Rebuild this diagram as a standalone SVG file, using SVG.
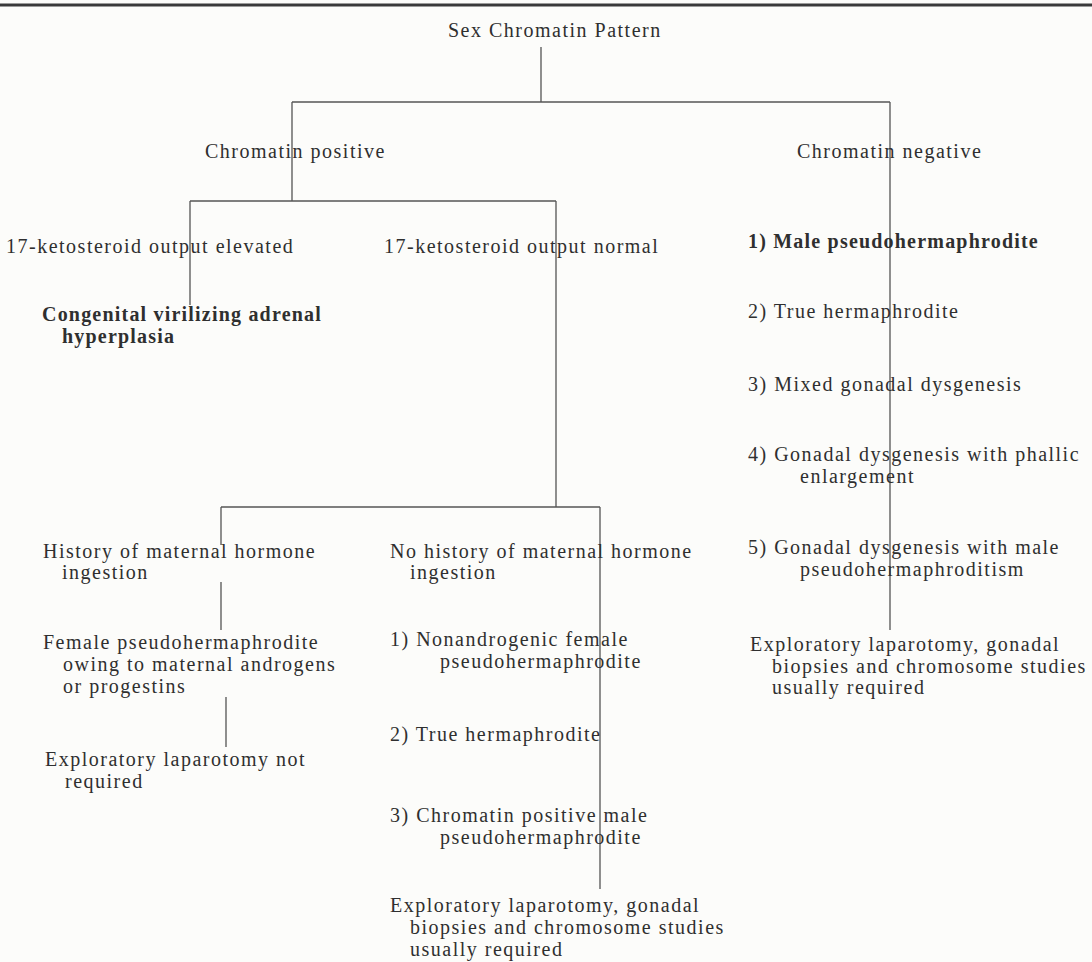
<svg xmlns="http://www.w3.org/2000/svg" width="1092" height="962" viewBox="0 0 1092 962">
<style>
text{font-family:"Liberation Serif","Times New Roman",serif;font-size:20px;letter-spacing:1.5px;fill:#2f2f2f}
.b{font-weight:bold;letter-spacing:1.2px}
.ln{stroke:#555;stroke-width:1.3;fill:none}
.rule{stroke:#3a3a3a;stroke-width:3}
</style>
<rect width="1092" height="962" fill="#fcfcfa"/>
<line class="rule" x1="0" y1="5" x2="1092" y2="5"/>
<g id="connectors">
<path class="ln" d="M541 47V102M292 102H890M292 102V201M890 102V630"/>
<path class="ln" d="M190 201H556M190 201V305M556 201V507"/>
<path class="ln" d="M221 507H600M221 507V545M221 582V630M600 507V889M226 697V747"/>
</g>
<g id="root"><text x="448" y="37">Sex Chromatin Pattern</text></g>
<g id="pos"><text x="205" y="158">Chromatin positive</text></g>
<g id="neg"><text x="797" y="158">Chromatin negative</text></g>
<g id="elev"><text x="6" y="253">17-ketosteroid output elevated</text></g>
<g id="norm"><text x="384" y="253">17-ketosteroid output normal</text></g>
<g id="cvah"><text class="b" x="42" y="321">Congenital virilizing adrenal</text><text class="b" x="62" y="343">hyperplasia</text></g>
<g id="hist"><text x="43" y="558">History of maternal hormone</text><text x="62" y="579">ingestion</text></g>
<g id="nohist"><text x="390" y="558">No history of maternal hormone</text><text x="410" y="579">ingestion</text></g>
<g id="fph"><text x="43" y="649">Female pseudohermaphrodite</text><text x="63" y="671">owing to maternal androgens</text><text x="63" y="693">or progestins</text></g>
<g id="expnot"><text x="45" y="766">Exploratory laparotomy not</text><text x="65" y="788">required</text></g>
<g id="m1"><text x="390" y="646">1) Nonandrogenic female</text><text x="440" y="668">pseudohermaphrodite</text></g>
<g id="m2"><text x="390" y="741">2) True hermaphrodite</text></g>
<g id="m3"><text x="390" y="822">3) Chromatin positive male</text><text x="440" y="844">pseudohermaphrodite</text></g>
<g id="mexp"><text x="390" y="912">Exploratory laparotomy, gonadal</text><text x="410" y="934">biopsies and chromosome studies</text><text x="410" y="956">usually required</text></g>
<g id="r1"><text class="b" x="748" y="248">1) Male pseudohermaphrodite</text></g>
<g id="r2"><text x="748" y="318">2) True hermaphrodite</text></g>
<g id="r3"><text x="748" y="391">3) Mixed gonadal dysgenesis</text></g>
<g id="r4"><text x="748" y="461">4) Gonadal dysgenesis with phallic</text><text x="800" y="483">enlargement</text></g>
<g id="r5"><text x="748" y="554">5) Gonadal dysgenesis with male</text><text x="800" y="576">pseudohermaphroditism</text></g>
<g id="rexp"><text x="750" y="651">Exploratory laparotomy, gonadal</text><text x="772" y="673">biopsies and chromosome studies</text><text x="772" y="694">usually required</text></g>
</svg>
